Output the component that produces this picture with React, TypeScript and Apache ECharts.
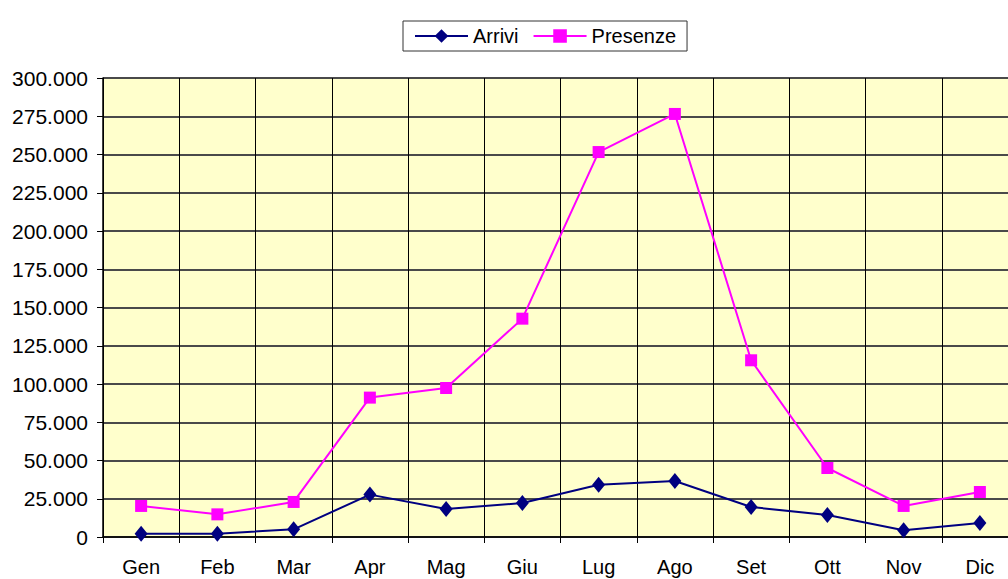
import React, { useEffect, useRef } from "react";
import * as echarts from "echarts";

const months = ["Gen", "Feb", "Mar", "Apr", "Mag", "Giu", "Lug", "Ago", "Set", "Ott", "Nov", "Dic"];
const arrivi = [2200, 2200, 5000, 27700, 18300, 22200, 34200, 36600, 19600, 14400, 4400, 9200];
const presenze = [20300, 14800, 22900, 91100, 97400, 142700, 251600, 276500, 115500, 45100, 20300, 29400];
const yMin = 0;
const yMax = 300000;
const yStep = 25000;

const fmt = (v: number) => String(v).replace(/\B(?=(\d{3})+(?!\d))/g, ".");

export default function App() {
  const ref = useRef<HTMLDivElement>(null);
  useEffect(() => {
    if (!ref.current) return;
    const chart = echarts.init(ref.current, undefined, { renderer: "svg" });
    const font = "Liberation Sans, Arial, sans-serif";
    chart.setOption({
      animation: false,
      backgroundColor: "#ffffff",
      textStyle: { fontFamily: font },
      legend: {
        left: 403,
        top: 21,
        padding: [5, 11],
        itemGap: 14,
        itemWidth: 53,
        itemHeight: 17,
        borderColor: "#333",
        borderWidth: 1,
        backgroundColor: "#ffffff",
        textStyle: { fontFamily: font, fontSize: 20, color: "#000" },
        data: ["Arrivi", "Presenze"],
      },
      grid: {
        left: 103,
        right: 12,
        top: 78,
        bottom: 42,
        show: true,
        backgroundColor: "#FFFFCC",
        borderWidth: 0,
      },
      xAxis: {
        type: "category",
        data: months,
        boundaryGap: true,
        axisLine: { show: true, lineStyle: { color: "#000", width: 1.5 } },
        axisTick: { show: true, length: 6, inside: false, lineStyle: { color: "#000" } },
        axisLabel: { fontFamily: font, fontSize: 20, color: "#000", margin: 20, interval: 0 },
        splitLine: { show: true, lineStyle: { color: "#000", width: 1 } },
      },
      yAxis: {
        type: "value",
        min: yMin,
        max: yMax,
        interval: yStep,
        axisLine: { show: true, lineStyle: { color: "#000", width: 1.5 } },
        axisTick: { show: true, length: 6, lineStyle: { color: "#000" } },
        axisLabel: { fontFamily: font, fontSize: 21, color: "#000", margin: 15, formatter: (v: number) => fmt(v) },
        splitLine: { show: true, lineStyle: { color: "#4a4a4a", width: 2 } },
      },
      series: [
        {
          name: "Arrivi",
          type: "line",
          data: arrivi,
          symbol: "diamond",
          symbolSize: [13, 16],
          lineStyle: { color: "#000080", width: 2 },
          itemStyle: { color: "#000080" },
        },
        {
          name: "Presenze",
          type: "line",
          data: presenze,
          symbol: "rect",
          symbolSize: 12,
          lineStyle: { color: "#FF00FF", width: 2 },
          itemStyle: { color: "#FF00FF" },
        },
      ],
    });
    return () => chart.dispose();
  }, []);
  return (
    <div style={{ position: "fixed", left: 0, top: 0, width: 1008, height: 579, overflow: "hidden", background: "#fff" }}>
      <div ref={ref} style={{ width: 1030, height: 579 }} />
    </div>
  );
}
